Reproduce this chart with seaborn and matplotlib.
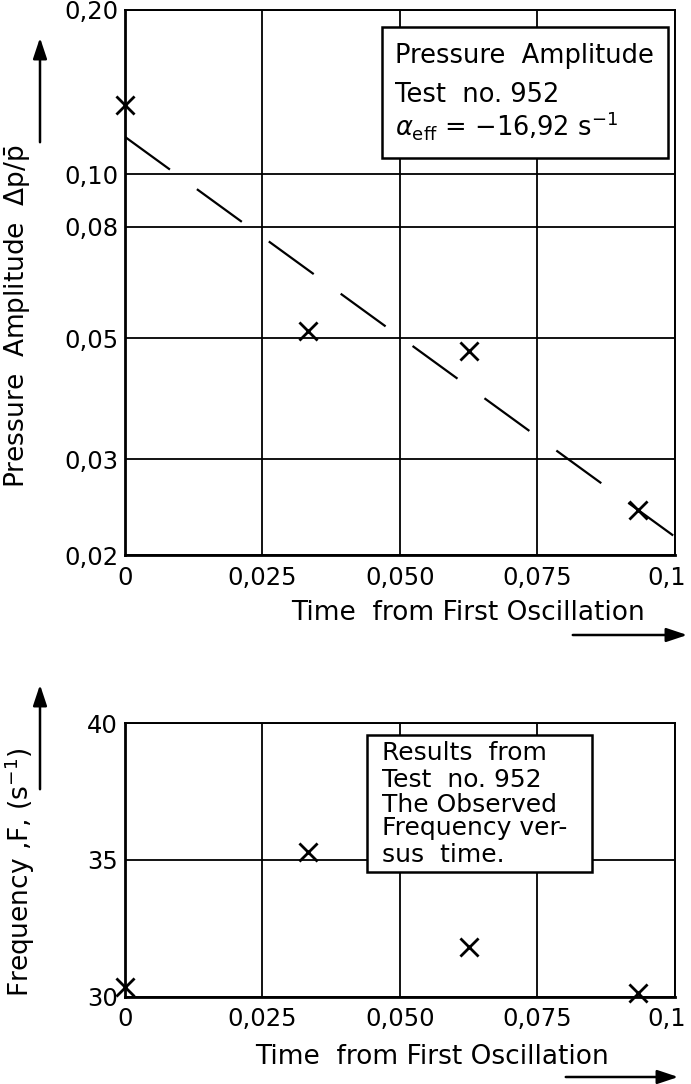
import numpy as np
import matplotlib
matplotlib.use("Agg")
import matplotlib.pyplot as plt
import matplotlib.transforms as mtransforms
import seaborn as sns
from matplotlib.patches import Rectangle, FancyArrowPatch
from matplotlib.ticker import NullLocator

time_s = [0.0, 0.0333, 0.0625, 0.0932]
amplitude = [0.134, 0.0515, 0.0474, 0.0242]
frequency = [30.36, 35.3, 31.84, 30.15]

# fitted decay line, alpha_eff = -16,92 1/s
fit_t = [0.0, 0.1]
fit_amp = [0.117, 0.0216]

x_ticks = [0, 0.025, 0.05, 0.075, 0.1]
x_ticklabels = ["0", "0,025", "0,050", "0,075", "0,1"]
amp_ticks = [0.02, 0.03, 0.05, 0.08, 0.10, 0.20]
amp_ticklabels = ["0,02", "0,03", "0,05", "0,08", "0,10", "0,20"]
freq_ticks = [30, 35, 40]
freq_ticklabels = ["30", "35", "40"]

sns.set_theme(style="white")
plt.rcParams["font.family"] = ["DejaVu Sans"]
plt.rcParams["mathtext.fontset"] = "dejavusans"
plt.rcParams["text.color"] = "black"
plt.rcParams["axes.labelcolor"] = "black"
plt.rcParams["xtick.color"] = "black"
plt.rcParams["ytick.color"] = "black"

fig = plt.figure(figsize=(6.91, 10.84), dpi=100)
ax1 = fig.add_axes([0.1809, 0.4880, 0.7959, 0.5028])
ax2 = fig.add_axes([0.1809, 0.0803, 0.7959, 0.2527])


def style_axes(ax, pad_x):
    ax.grid(True, which="major", color="black", lw=1.3)
    ax.tick_params(length=0, labelsize=17.5, colors="black")
    ax.tick_params(axis="x", pad=pad_x)
    ax.tick_params(axis="y", pad=5)
    for side, sp in ax.spines.items():
        sp.set_color("black")
        sp.set_linewidth(2.0 if side in ("left", "bottom") else 1.4)
        sp.set_visible(True)
    ax.set_xlabel("")
    ax.set_ylabel("")
    # last x label sits at the page edge, pull it in a little
    last = ax.get_xticklabels()[-1]
    last.set_transform(last.get_transform() +
                       mtransforms.ScaledTranslation(-6 / 72, 0, fig.dpi_scale_trans))


# --- top panel: pressure amplitude (log scale)
sns.lineplot(x=fit_t, y=fit_amp, ax=ax1, color="black", lw=1.6,
             linestyle=(0, (25, 15)), zorder=3)
sns.scatterplot(x=time_s, y=amplitude, ax=ax1, marker="x", s=170,
                color="black", linewidth=2.0, zorder=4, clip_on=False)
ax1.set_yscale("log")
ax1.set_xlim(0, 0.1)
ax1.set_ylim(0.02, 0.20)
ax1.set_xticks(x_ticks)
ax1.set_xticklabels(x_ticklabels)
ax1.set_yticks(amp_ticks)
ax1.set_yticklabels(amp_ticklabels)
ax1.yaxis.set_minor_locator(NullLocator())
style_axes(ax1, 8)

ax1.add_patch(Rectangle((0.467, 0.728), 0.52, 0.241, transform=ax1.transAxes,
                        facecolor="white", edgecolor="black", lw=1.8, zorder=5))
box1 = ["Pressure  Amplitude", "Test  no. 952",
        r"$\alpha_{\rm eff}$ = $-$16,92 s$^{-1}$"]
for txt, yb in zip(box1, [0.9028, 0.8312, 0.7706]):
    ax1.text(0.491, yb, txt, transform=ax1.transAxes, fontsize=18.5,
             va="baseline", ha="left", zorder=6)

# --- bottom panel: observed frequency
sns.scatterplot(x=time_s, y=frequency, ax=ax2, marker="x", s=170,
                color="black", linewidth=2.0, zorder=4, clip_on=False)
ax2.set_xlim(0, 0.1)
ax2.set_ylim(30, 40)
ax2.set_xticks(x_ticks)
ax2.set_xticklabels(x_ticklabels)
ax2.set_yticks(freq_ticks)
ax2.set_yticklabels(freq_ticklabels)
style_axes(ax2, 7)

ax2.add_patch(Rectangle((0.44, 0.456), 0.409, 0.50, transform=ax2.transAxes,
                        facecolor="white", edgecolor="black", lw=1.8, zorder=5))
box2 = ["Results  from", "Test  no. 952", "The Observed",
        "Frequency ver-", "sus  time."]
for txt, yb in zip(box2, [0.865, 0.766, 0.675, 0.591, 0.493]):
    ax2.text(0.467, yb, txt, transform=ax2.transAxes, fontsize=18,
             va="baseline", ha="left", zorder=6)

# axis titles placed as in the drawing
fig.text(0.026, 1 - 316 / 1084, r"Pressure  Amplitude  $\Delta \mathrm{p}/\bar{\mathrm{p}}$",
         rotation=90, ha="center", va="center", fontsize=19)
fig.text(0.028, 1 - 872 / 1084, r"Frequency ,F, (s$^{-1}$)",
         rotation=90, ha="center", va="center", fontsize=19)
fig.text(0.678, 1 - 613 / 1084, "Time  from First Oscillation",
         ha="center", va="center", fontsize=19)
fig.text(0.625, 1 - 1057 / 1084, "Time  from First Oscillation",
         ha="center", va="center", fontsize=19)

arrow = dict(arrowstyle="-|>,head_length=0.9,head_width=0.3", color="black", lw=1.8)
arrow_ends = [((40, 145), (40, 35)), ((40, 792), (40, 682)),
              ((570, 635), (690, 635)), ((563, 1077), (681, 1077))]
for (x0, y0), (x1, y1) in arrow_ends:
    fig.add_artist(FancyArrowPatch((x0 / 691, 1 - y0 / 1084), (x1 / 691, 1 - y1 / 1084),
                                   transform=fig.transFigure, mutation_scale=14, **arrow))

fig.savefig("out.png", dpi=100)
